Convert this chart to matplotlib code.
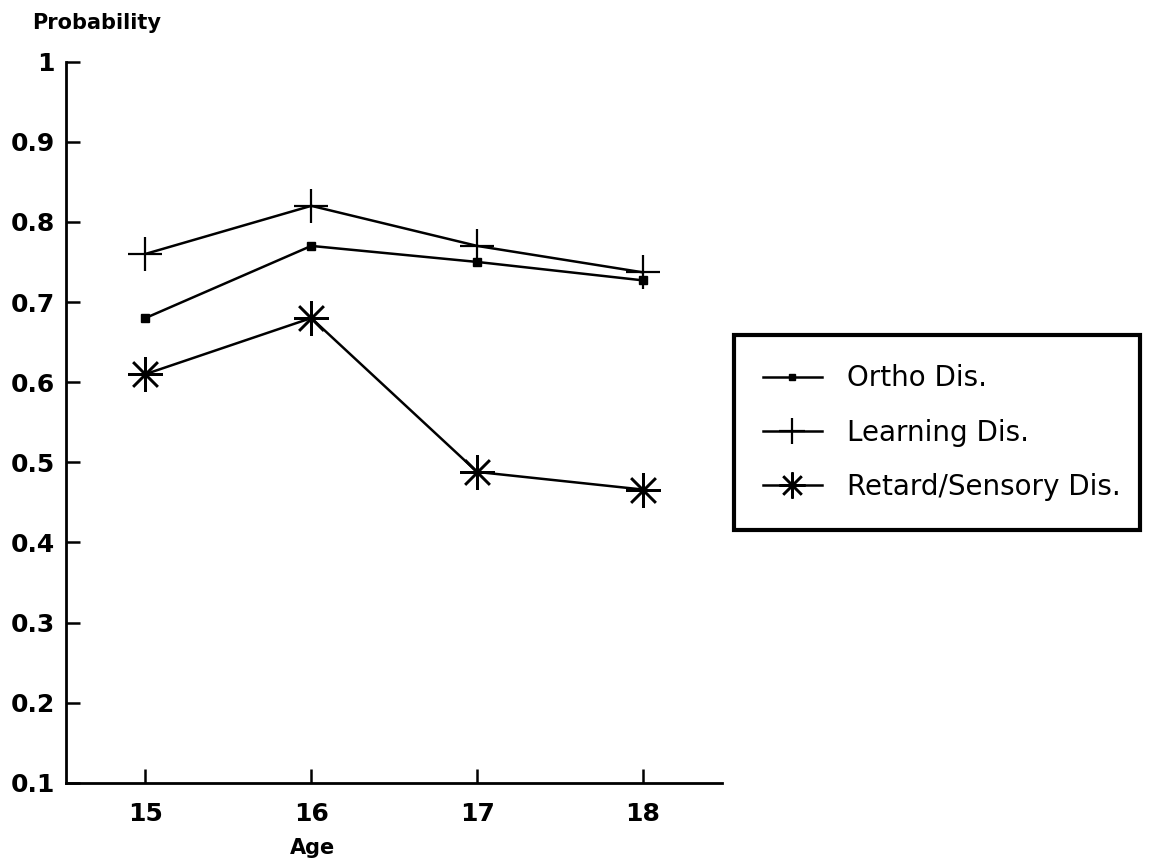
import matplotlib
matplotlib.use("Agg")
import matplotlib.pyplot as plt

edades = [15, 16, 17, 18]
ortho = [0.68, 0.77, 0.75, 0.727]
learning = [0.76, 0.82, 0.77, 0.737]
retard = [0.61, 0.68, 0.488, 0.466]
y_ticks = [0.1, 0.2, 0.3, 0.4, 0.5, 0.6, 0.7, 0.8, 0.9, 1.0]
y_labels = ["0.1", "0.2", "0.3", "0.4", "0.5", "0.6", "0.7", "0.8", "0.9", "1"]

fig = plt.figure(figsize=(11.56, 8.67), dpi=100)
ax = fig.add_axes([0.057, 0.097, 0.568, 0.832])

ax.plot(edades, ortho, color="black", lw=1.8, marker="s", ms=6, label="Ortho Dis.")
ax.plot(edades, learning, color="black", lw=1.8, marker="+", ms=25, mew=1.6, label="Learning Dis.")
ax.plot(edades, retard, color="black", lw=1.8, marker=(8, 2, 0), ms=25, mew=1.8, label="Retard/Sensory Dis.")

ax.set_xlim(14.52, 18.48)
ax.set_ylim(0.1, 1.0)
ax.set_xticks(edades)
ax.set_xticklabels([str(e) for e in edades], fontsize=18, fontweight="bold")
ax.set_yticks(y_ticks)
ax.set_yticklabels(y_labels, fontsize=18, fontweight="bold")
ax.tick_params(direction="in", length=10, width=1.8, pad=8)
ax.tick_params(axis="x", pad=14)

for lado in ["top", "right"]:
    ax.spines[lado].set_visible(False)
for lado in ["left", "bottom"]:
    ax.spines[lado].set_linewidth(2)

fig.text(0.028, 0.973, "Probability", fontsize=15, fontweight="bold", va="center", ha="left")
fig.text(0.27, 0.022, "Age", fontsize=15, fontweight="bold", va="center", ha="center")

leg = fig.legend(loc="center", bbox_to_anchor=(0.623, 0.386, 0.375, 0.23), mode="expand",
                 fontsize=20, frameon=True, fancybox=False, edgecolor="black", framealpha=1,
                 handlelength=2.1, labelspacing=0.95, borderpad=1.05, handletextpad=0.9,
                 markerscale=0.75)
leg.get_frame().set_linewidth(3)

fig.savefig("out.png", dpi=100)
